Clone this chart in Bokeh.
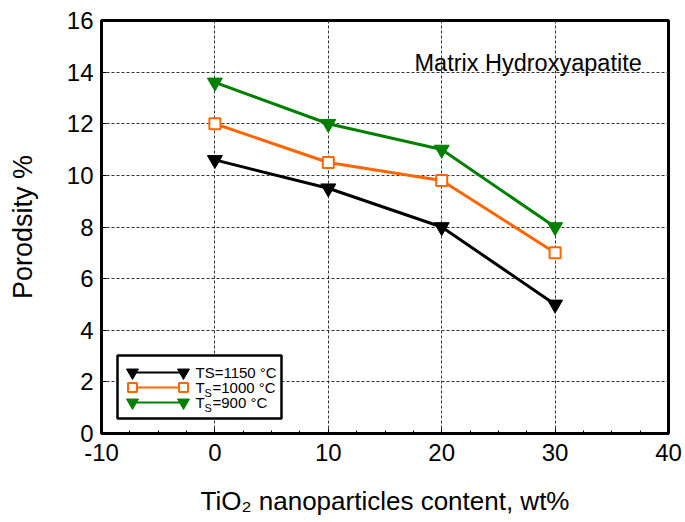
from bokeh.plotting import figure
from bokeh.models import Range1d, Label, BoxAnnotation, SingleIntervalTicker, PrintfTickFormatter
from bokeh.embed import file_html
from bokeh.resources import INLINE

# ---- data ----
content = [0, 10, 20, 30]
ts1150 = [10.6, 9.5, 8.0, 5.0]
ts1000 = [12.0, 10.5, 9.8, 7.0]
ts900 = [13.6, 12.0, 11.0, 8.0]
series_labels = ["TS=1150 \u00b0C", "=1000 \u00b0C", "=900 \u00b0C"]
annotation_text = "Matrix Hydroxyapatite"
x_title = "TiO\u2082 nanoparticles content, wt%"
y_title = "Porodsity %"

FONT = "Liberation Sans"
BLACK = "#000000"
ORANGE = "#FF6600"
GREEN = "#008000"

X0, X1, Y0, Y1 = -10, 40, 0, 16
W, H = 685, 522
FL, FT, FR, FB = 101, 20, 17, 89
FW, FH = W - FL - FR, H - FT - FB

def px2x(px):
    return X0 + (px - FL) / FW * (X1 - X0)

def py2y(py):
    return Y1 - (py - FT) / FH * (Y1 - Y0)

p = figure(width=W, height=H, x_range=Range1d(X0, X1), y_range=Range1d(Y0, Y1),
           output_backend="svg", toolbar_location=None,
           min_border_left=FL, min_border_right=FR, min_border_top=FT, min_border_bottom=FB)

p.outline_line_color = "black"
p.outline_line_width = 3
p.outline_line_alpha = 1
p.background_fill_color = "white"
p.border_fill_color = "white"

p.xaxis.ticker = SingleIntervalTicker(interval=10, num_minor_ticks=4)
p.yaxis.ticker = SingleIntervalTicker(interval=2, num_minor_ticks=0)
p.xaxis.formatter = PrintfTickFormatter(format="%d")
p.yaxis.formatter = PrintfTickFormatter(format="%d")
for ax in (p.xaxis, p.yaxis):
    ax.axis_line_width = 3
    ax.axis_line_color = "black"
    ax.major_tick_in = 5
    ax.major_tick_out = 0
    ax.minor_tick_in = 3
    ax.minor_tick_out = 0
    ax.major_tick_line_color = "black"
    ax.minor_tick_line_color = "black"
    ax.major_label_text_font = FONT
    ax.major_label_text_font_size = "24px"
    ax.major_label_text_color = "black"
    ax.axis_label_text_font = FONT
    ax.axis_label_text_font_style = "normal"
    ax.axis_label_text_color = "black"
p.xaxis.major_label_standoff = 10
p.yaxis.major_label_standoff = 8
p.yaxis.axis_label = y_title
p.yaxis.axis_label_text_font_size = "27px"
p.yaxis.axis_label_standoff = 26
p.xaxis.axis_label = x_title
p.xaxis.axis_label_text_font_size = "26px"
p.xaxis.axis_label_standoff = 22

for g in (p.xgrid, p.ygrid):
    g.grid_line_color = "#333333"
    g.grid_line_dash = "3 2"
    g.grid_line_width = 1

# ---- series ----
p.line(content, ts1150, line_color=BLACK, line_width=3)
p.scatter(content, ts1150, marker="inverted_triangle", size=15, fill_color=BLACK, line_color=BLACK)
p.line(content, ts1000, line_color=ORANGE, line_width=3)
p.scatter(content, ts1000, marker="square", size=11, fill_color="white", line_color=ORANGE, line_width=2)
p.line(content, ts900, line_color=GREEN, line_width=3)
p.scatter(content, ts900, marker="inverted_triangle", size=15, fill_color=GREEN, line_color=GREEN)

# ---- annotation text ----
p.add_layout(Label(x=px2x(414), y=py2y(62), text=annotation_text, text_font=FONT,
                   text_font_size="23.5px", text_color="black", text_baseline="alphabetic"))

# ---- legend (drawn manually) ----
p.add_layout(BoxAnnotation(left=px2x(117), right=px2x(281), top=py2y(355), bottom=py2y(418),
                           fill_color="white", fill_alpha=1, line_color="black", line_alpha=1,
                           line_width=2.5, level="annotation"))
rows = [(372, BLACK, "inverted_triangle", BLACK),
        (387, ORANGE, "square", "white"),
        (402, GREEN, "inverted_triangle", GREEN)]
for i, (ry, col, mk, fill) in enumerate(rows):
    xs = [px2x(132), px2x(183)]
    ys = [py2y(ry), py2y(ry)]
    ln = p.line(xs, ys, line_color=col, line_width=2)
    ln.level = "overlay"
    sc = p.scatter(xs, ys, marker=mk, size=12 if mk == "inverted_triangle" else 9,
                   fill_color=fill, line_color=col, line_width=2 if mk == "square" else 1)
    sc.level = "overlay"
    if i == 0:
        p.add_layout(Label(x=px2x(195), y=py2y(ry), text=series_labels[0], text_font=FONT,
                           text_font_size="15px", text_baseline="middle", text_color="black",
                           level="overlay"))
    else:
        p.add_layout(Label(x=px2x(195), y=py2y(ry), text="T", text_font=FONT,
                           text_font_size="15px", text_baseline="middle", text_color="black",
                           level="overlay"))
        p.add_layout(Label(x=px2x(204), y=py2y(ry + 5), text="S", text_font=FONT,
                           text_font_size="11px", text_baseline="middle", text_color="black",
                           level="overlay"))
        p.add_layout(Label(x=px2x(212), y=py2y(ry), text=series_labels[i], text_font=FONT,
                           text_font_size="15px", text_baseline="middle", text_color="black",
                           level="overlay"))

open("out.html", "w").write(file_html(p, INLINE))
